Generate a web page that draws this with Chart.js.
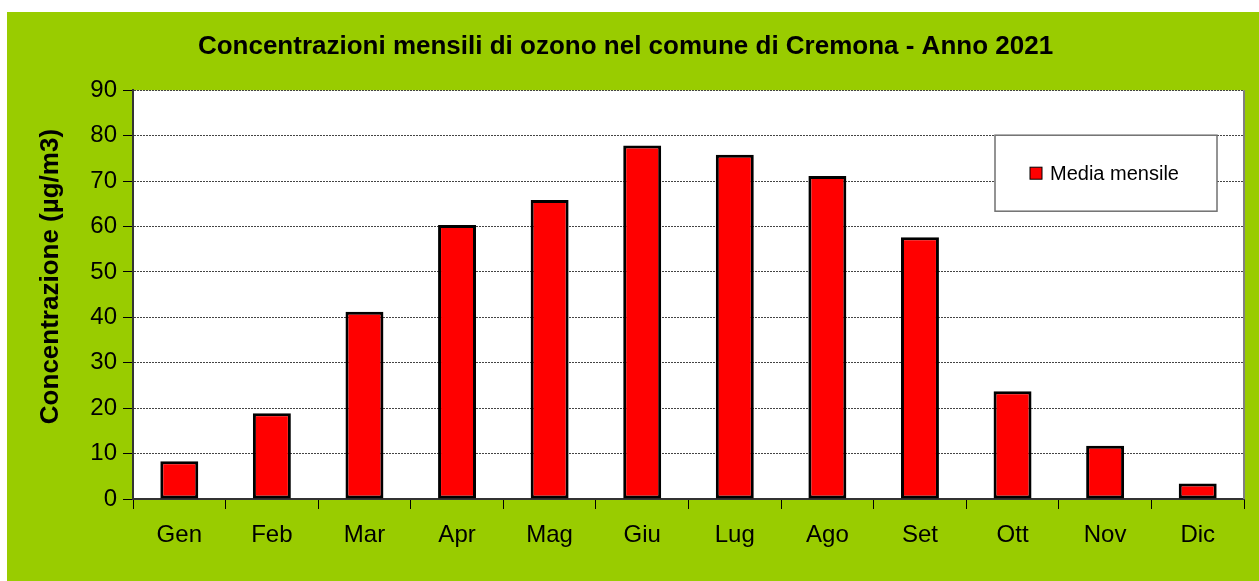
<!DOCTYPE html>
<html>
<head>
<meta charset="utf-8">
<script src="https://cdn.jsdelivr.net/npm/chart.js@4"></script>
<style>
  html, body { margin: 0; padding: 0; background: #ffffff; }
  #wrap { width: 1259px; height: 581px; }
</style>
</head>
<body>
<div id="wrap"><canvas id="ozoneChart"></canvas></div>
<script>
// monthly ozone concentration, Cremona 2021
const months = ["Gen", "Feb", "Mar", "Apr", "Mag", "Giu", "Lug", "Ago", "Set", "Ott", "Nov", "Dic"];
const monthlyMean = [8.3, 18.9, 41.2, 60.3, 65.8, 77.8, 75.8, 71.1, 57.6, 23.7, 11.7, 3.4];
const yTicks = [0, 10, 20, 30, 40, 50, 60, 70, 80, 90];

const FONT = "'Liberation Sans', Arial, sans-serif";

// green frame + white plot area
const backdrop = {
  id: "backdrop",
  beforeDraw(chart) {
    const { ctx, chartArea: a } = chart;
    ctx.save();
    ctx.fillStyle = "#ffffff";
    ctx.fillRect(0, 0, chart.width, chart.height);
    ctx.fillStyle = "#99cc00";
    ctx.fillRect(7, 12, chart.width - 7, chart.height - 12);
    ctx.fillStyle = "#ffffff";
    ctx.fillRect(a.left, a.top, a.right - a.left, a.bottom - a.top);
    ctx.restore();
  },
  afterDraw(chart) {
    const { ctx, chartArea: a } = chart;
    ctx.save();
    ctx.strokeStyle = "#808080";
    ctx.lineWidth = 2;
    ctx.beginPath();
    ctx.moveTo(a.right, a.top);
    ctx.lineTo(a.right, a.bottom);
    ctx.stroke();
    ctx.restore();
  }
};

// boxed legend inside the plot, top right
const boxLegend = {
  id: "boxLegend",
  afterDraw(chart) {
    const { ctx, chartArea: a } = chart;
    const ds = chart.data.datasets[0];
    const x = a.right - 249, y = a.top + 45, w = 222, h = 76;
    ctx.save();
    ctx.fillStyle = "#ffffff";
    ctx.fillRect(x, y, w, h);
    ctx.strokeStyle = "#707070";
    ctx.lineWidth = 1.5;
    ctx.strokeRect(x, y, w, h);
    ctx.fillStyle = ds.backgroundColor;
    ctx.fillRect(x + 35, y + 32, 12, 12);
    ctx.strokeStyle = "#000000";
    ctx.lineWidth = 1;
    ctx.strokeRect(x + 35, y + 32, 12, 12);
    ctx.fillStyle = "#000000";
    ctx.font = "20px " + FONT;
    ctx.textBaseline = "middle";
    ctx.fillText(ds.label, x + 55, y + 39);
    ctx.restore();
  }
};

new Chart(document.getElementById("ozoneChart"), {
  type: "bar",
  data: {
    labels: months,
    datasets: [
      {
        label: "Media mensile",
        data: monthlyMean,
        backgroundColor: "#ff0000",
        borderColor: "#000000",
        borderWidth: 3,
        borderSkipped: false,
        barPercentage: 0.41,
        categoryPercentage: 1.0,
      },
    ],
  },
  options: {
    responsive: true,
    maintainAspectRatio: false,
    animation: false,
    layout: {
      padding: { left: 7, right: 15, top: 12, bottom: 0 },
    },
    scales: {
      x: {
        afterFit: (scale) => { scale.height = 82; },
        grid: {
          display: true,
          drawOnChartArea: false,
          drawTicks: true,
          offset: true,
          tickLength: 10,
          tickColor: "#000000",
          tickWidth: 1,
        },
        border: { display: true, color: "#333333", width: 2 },
        ticks: {
          color: "#000000",
          padding: 12,
          font: { family: FONT, size: 24 },
        },
      },
      y: {
        min: 0,
        max: 90,
        afterFit: (scale) => { scale.width = 126; },
        afterBuildTicks: (scale) => {
          scale.ticks = yTicks.map((v) => ({ value: v }));
        },
        grid: {
          color: "#444444",
          lineWidth: 1,
          tickLength: 10,
          tickColor: "#000000",
          tickWidth: 1,
          tickBorderDash: [],
        },
        border: { display: true, color: "#333333", width: 2, dash: [2, 1] },
        ticks: {
          color: "#000000",
          padding: 6,
          font: { family: FONT, size: 24 },
        },
        title: {
          display: true,
          // leading spaces nudge the label up like the original
          text: "     Concentrazione (µg/m3)",
          color: "#000000",
          padding: { top: 28, bottom: 0 },
          font: { family: FONT, size: 26, weight: "bold" },
        },
      },
    },
    plugins: {
      legend: { display: false },
      tooltip: { enabled: false },
      title: {
        display: true,
        text: "Concentrazioni mensili di ozono nel comune di Cremona - Anno 2021",
        color: "#000000",
        font: { family: FONT, size: 26, weight: "bold" },
        padding: { top: 19, bottom: 28 },
      },
    },
  },
  plugins: [backdrop, boxLegend],
});
</script>
</body>
</html>
